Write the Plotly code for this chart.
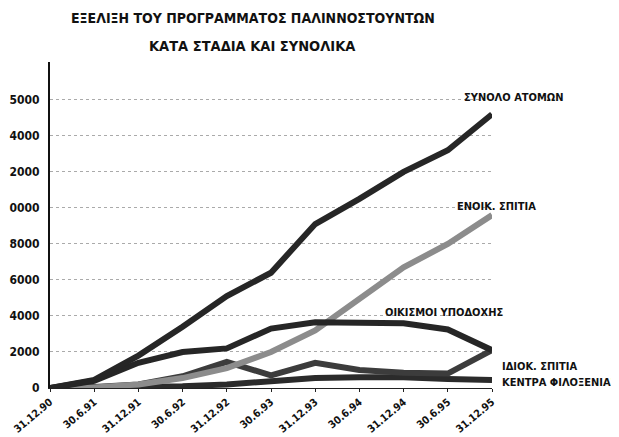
import plotly.graph_objects as go

# dates of each stage
dates = ["31.12.90", "30.6.91", "31.12.91", "30.6.92", "31.12.92", "30.6.93",
         "31.12.93", "30.6.94", "31.12.94", "30.6.95", "31.12.95"]

# values
synolo_atomon = [0, 450, 1800, 3400, 5100, 6400, 9100, 10500, 12000, 13200, 15200]
enoik_spitia = [0, 30, 200, 550, 1100, 2000, 3200, 5000, 6700, 8000, 9600]
oikismoi = [0, 400, 1400, 2000, 2200, 3300, 3650, 3650, 3600, 3250, 2100]
idiok_spitia = [0, 50, 200, 650, 1450, 700, 1400, 1000, 850, 800, 2100]
kentra = [0, 20, 50, 100, 200, 350, 550, 600, 600, 500, 450]

# y ticks (leading digit cut off in the scan)
ytick_vals = [0, 2000, 4000, 6000, 8000, 10000, 12000, 14000, 16000]
ytick_text = ["0", "2000", "4000", "6000", "8000", "0000", "2000", "4000", "5000"]

FONT = "Liberation Sans Narrow, DejaVu Sans Condensed, Arial Narrow, sans-serif"

series = [
    ("ΚΕΝΤΡΑ ΦΙΛΟΞΕΝΙΑΣ", kentra, "#2b2b2b"),
    ("ΙΔΙΟΚ. ΣΠΙΤΙΑ", idiok_spitia, "#3c3c3c"),
    ("ΕΝΟΙΚ. ΣΠΙΤΙΑ", enoik_spitia, "#8c8c8c"),
    ("ΟΙΚΙΣΜΟΙ ΥΠΟΔΟΧΗΣ", oikismoi, "#262626"),
    ("ΣΥΝΟΛΟ ΑΤΟΜΩΝ", synolo_atomon, "#262626"),
]

fig = go.Figure()
for name, vals, col in series:
    fig.add_trace(go.Scatter(x=dates, y=vals, mode="lines", name=name,
                             line=dict(color=col, width=6), cliponaxis=False))

# line labels, placed in paper coords
labels = [
    ("ΣΥΝΟΛΟ ΑΤΟΜΩΝ", 0.932, 0.89),
    ("ΕΝΟΙΚ. ΣΠΙΤΙΑ", 0.916, 0.558),
    ("ΟΙΚΙΣΜΟΙ ΥΠΟΔΟΧΗΣ", 0.753, 0.233),
    ("ΙΔΙΟΚ. ΣΠΙΤΙΑ", 1.018, 0.067),
    ("ΚΕΝΤΡΑ ΦΙΛΟΞΕΝΙΑΣ", 1.018, 0.018),
]
for txt, lx, ly in labels:
    fig.add_annotation(x=lx, y=ly, xref="paper", yref="paper",
                       text="<b>" + txt + "</b>", showarrow=False,
                       xanchor="left", yanchor="middle",
                       font=dict(family=FONT, size=11, color="#111"))

# two title lines
for txt, ty, fs in [("ΕΞΕΛΙΞΗ ΤΟΥ ΠΡΟΓΡΑΜΜΑΤΟΣ ΠΑΛΙΝΝΟΣΤΟΥΝΤΩΝ", 1.135, 14),
                    ("ΚΑΤΑ ΣΤΑΔΙΑ ΚΑΙ ΣΥΝΟΛΙΚΑ", 1.049, 14.5)]:
    fig.add_annotation(x=0.459, y=ty, xref="paper", yref="paper",
                       text="<b>" + txt + "</b>", showarrow=False,
                       xanchor="center", yanchor="middle",
                       font=dict(family=FONT, size=fs, color="#111"))

# page has an 8px body margin, so the figure is 8px smaller
fig.update_layout(
    width=611, height=429,
    margin=dict(l=42, r=127, t=54, b=49),
    paper_bgcolor="white", plot_bgcolor="white",
    showlegend=False,
)
fig.update_xaxes(
    type="category", range=[0, 10], showgrid=False,
    showline=True, linecolor="#222", linewidth=1,
    ticks="outside", ticklen=3, tickcolor="#222",
    tickangle=-40, automargin=False,
    tickvals=dates, ticktext=["<b>" + d + "</b>" for d in dates],
    tickfont=dict(family=FONT, size=10.5, color="#111"),
)
fig.update_yaxes(
    range=[0, 18100], tickvals=ytick_vals,
    ticktext=["<b>" + t + "</b>" for t in ytick_text],
    showgrid=True, gridcolor="#aaa", griddash="dot", gridwidth=1,
    showline=True, linecolor="#111", linewidth=2, zeroline=False,
    ticks="", automargin=False, ticklabelstandoff=6,
    tickfont=dict(family=FONT, size=12, color="#111"),
)

fig.write_html("out.html")
